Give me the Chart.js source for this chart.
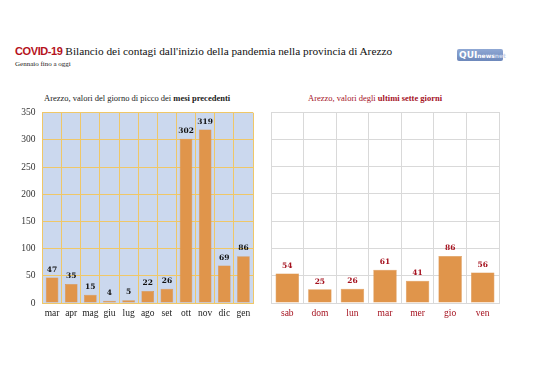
<!DOCTYPE html>
<html><head><meta charset="utf-8">
<script src="https://cdn.jsdelivr.net/npm/chart.js@4"></script>
<style>
html,body{margin:0;padding:0;background:#fff;width:538px;height:380px;overflow:hidden;}
.abs{position:absolute;white-space:nowrap;}
#title{left:15px;top:45px;font-family:"Liberation Serif",serif;font-size:11.3px;color:#111;}
#title b{font-family:"Liberation Sans",sans-serif;color:#b5121b;font-weight:700;font-size:11px;letter-spacing:-0.4px;}
#sub{left:15px;top:60px;font-family:"Liberation Serif",serif;font-size:7px;color:#222;}
#logo{left:457px;top:49px;width:46px;height:12px;background:linear-gradient(#8fa8d4,#6d88bb);border-radius:2px;font-family:"DejaVu Sans",sans-serif;color:#fff;font-size:9px;line-height:12px;font-weight:bold;padding-left:2px;box-sizing:border-box;}
#logo span{font-size:6px;}
#lt{left:44px;top:93px;font-family:"Liberation Serif",serif;font-size:8.5px;color:#222;}
#rt{left:308px;top:93px;font-family:"Liberation Serif",serif;font-size:8.5px;color:#a5121f;}
.cw{position:absolute;}
</style></head><body>
<div class="abs" id="title"><b>COVID-19</b> Bilancio dei contagi dall'inizio della pandemia nella provincia di Arezzo</div>
<div class="abs" id="sub">Gennaio fino a oggi</div>
<div class="abs" id="logo">QUI<span>news</span><span style="color:#c8d4ec">net</span></div>
<div class="abs" id="lt">Arezzo, valori del giorno di picco dei <b>mesi precedenti</b></div>
<div class="abs" id="rt">Arezzo, valori degli <b>ultimi sette giorni</b></div>
<div class="cw" style="left:0;top:100px;width:265px;height:225px"><canvas id="c1"></canvas></div>
<div class="cw" style="left:268px;top:100px;width:240px;height:225px"><canvas id="c2"></canvas></div>
<script>
const monthLabels = ["mar","apr","mag","giu","lug","ago","set","ott","nov","dic","gen"];
const monthValues = [47,35,15,4,5,22,26,302,319,69,86];
const dayLabels = ["sab","dom","lun","mar","mer","gio","ven"];
const dayValues = [54,25,26,61,41,86,56];
const yTicks = [0,50,100,150,200,250,300,350];

const labelPlugin = {
  id:'vlabels',
  afterDatasetsDraw(chart, args, opts){
    const ctx = chart.ctx;
    const meta = chart.getDatasetMeta(0);
    ctx.save();
    ctx.font = 'bold 7.5px "DejaVu Serif", serif';
    ctx.fillStyle = opts.color;
    ctx.textAlign = 'center';
    ctx.textBaseline = 'bottom';
    meta.data.forEach((bar,i)=>{
      ctx.fillText(String(chart.data.datasets[0].data[i]), bar.x, bar.y - 4);
    });
    ctx.restore();
  }
};
const bgPlugin = {
  id:'bgfill',
  beforeDraw(chart, args, opts){
    if(!opts.color) return;
    const a = chart.chartArea, ctx = chart.ctx;
    ctx.save(); ctx.fillStyle = opts.color;
    ctx.fillRect(a.left, a.top, a.right-a.left, a.bottom-a.top);
    ctx.restore();
  }
};

function makeChart(id, labels, values, cfg){
  return new Chart(document.getElementById(id), {
    type:'bar',
    data:{labels, datasets:[{data:values, backgroundColor:'#e0954b', borderColor:'#d58a40', borderWidth:0.5, barPercentage:cfg.bp, categoryPercentage:1}]},
    plugins:[labelPlugin,bgPlugin],
    options:{
      responsive:true, maintainAspectRatio:false, animation:false,
      layout:{padding:{top:12,right:cfg.padR,left:0,bottom:0}},
      plugins:{legend:{display:false},tooltip:{enabled:false},
        vlabels:{color:cfg.valColor}, bgfill:{color:cfg.bg}},
      scales:{
        x:{grid:{color:cfg.grid, offset:true, drawTicks:false},
           border:{color:cfg.grid},
           ticks:{color:cfg.catColor, padding:5, maxRotation:0, minRotation:0, autoSkip:false,
                  font:{family:'"Liberation Serif", serif', size:9.5}},
           afterFit(s){s.height=22;}},
        y:{min:0,max:350,
           afterBuildTicks(s){s.ticks = yTicks.map(v=>({value:v}));},
           grid:{color:cfg.grid, drawTicks:false},
           border:{color:cfg.grid},
           ticks:{display:cfg.showY, color:'#333', padding:7, font:{family:'"Liberation Serif", serif', size:9.5}},
           afterFit(s){s.width=cfg.yW;}}
      }
    }
  });
}
makeChart('c1', monthLabels, monthValues, {bp:0.66, padR:12, grid:'#efc768', bg:'#cbd8ee', valColor:'#111', catColor:'#222', showY:true, yW:42.5});
makeChart('c2', dayLabels, dayValues, {bp:0.72, padR:9, grid:'#d9d9d9', bg:null, valColor:'#a5121f', catColor:'#a5121f', showY:false, yW:3});
</script>
</body></html>
